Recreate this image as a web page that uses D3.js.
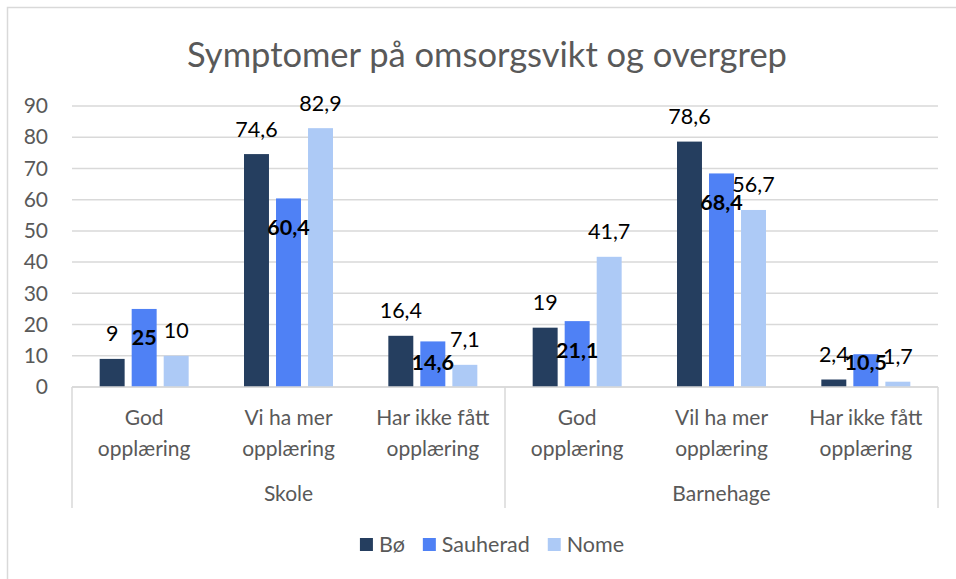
<!DOCTYPE html>
<html>
<head>
<meta charset="utf-8">
<script src="https://cdn.jsdelivr.net/npm/d3@7"></script>
<style>
  body { margin: 0; background: #fff; }
  svg { display: block; font-family: Lato, "Open Sans", sans-serif; }
</style>
</head>
<body>
<svg id="chart"></svg>
<script>
var groups = ["Skole", "Barnehage"];
var categories = [
  ["God", "opplæring"], ["Vi ha mer", "opplæring"], ["Har ikke fått", "opplæring"],
  ["God", "opplæring"], ["Vil ha mer", "opplæring"], ["Har ikke fått", "opplæring"]
];
var seriesNames = ["Bø", "Sauherad", "Nome"];
var boValues = [9, 74.6, 16.4, 19, 78.6, 2.4];
var sauheradValues = [25, 60.4, 14.6, 21.1, 68.4, 10.5];
var nomeValues = [10, 82.9, 7.1, 41.7, 56.7, 1.7];
var yTicks = [0, 10, 20, 30, 40, 50, 60, 70, 80, 90];

var colors = ["#253e5f", "#4f81f5", "#adcaf6"];
var seriesValues = [boValues, sauheradValues, nomeValues];

var width = 956, height = 579;
var plot = { left: 72, right: 938, top: 106, bottom: 387 };

var svg = d3.select("#chart").attr("width", width).attr("height", height);

// chart border
svg.append("rect")
  .attr("x", 7.5).attr("y", 7.5)
  .attr("width", 1000).attr("height", 1000)
  .attr("fill", "none").attr("stroke", "#d9d9d9").attr("stroke-width", 1.5);

svg.append("text")
  .attr("x", 487).attr("y", 67)
  .attr("text-anchor", "middle")
  .attr("fill", "#595959")
  .style("font-size", "34.5px")
  .text("Symptomer på omsorgsvikt og overgrep");

var y = d3.scaleLinear().domain([0, 90]).range([plot.bottom, plot.top]);

var x = d3.scaleBand()
  .domain(d3.range(categories.length))
  .range([plot.left, plot.right])
  .padding(0);

var inner = d3.scaleBand()
  .domain(d3.range(seriesNames.length))
  .range([(x.bandwidth() - 89) / 2, (x.bandwidth() + 89) / 2])
  .paddingInner(0.22)
  .paddingOuter(0);

// gridlines
svg.append("g")
  .selectAll("line")
  .data(yTicks)
  .join("line")
    .attr("x1", plot.left).attr("x2", plot.right)
    .attr("y1", d => y(d)).attr("y2", d => y(d))
    .attr("stroke", "#d9d9d9").attr("stroke-width", 1.5);

// y axis labels
var yAxis = d3.axisLeft(y).tickValues(yTicks).tickSize(0).tickPadding(0);
var yg = svg.append("g").attr("transform", "translate(48,0)").call(yAxis);
yg.select(".domain").remove();
yg.selectAll("text")
  .attr("fill", "#595959")
  .style("font-size", "21px")
  .style("font-family", "Lato, sans-serif");

// bars
seriesValues.forEach((vals, s) => {
  svg.append("g")
    .selectAll("rect")
    .data(vals)
    .join("rect")
      .attr("x", (d, i) => x(i) + inner(s))
      .attr("y", d => y(d))
      .attr("width", inner.bandwidth())
      .attr("height", d => y(0) - y(d))
      .attr("fill", colors[s]);
});

// value labels
var fmt = v => String(v).replace(".", ",");
seriesValues.forEach((vals, s) => {
  var bold = s === 1;
  svg.append("g")
    .selectAll("text")
    .data(vals)
    .join("text")
      .attr("x", (d, i) => x(i) + inner(s) + inner.bandwidth() / 2)
      .attr("y", d => bold ? Math.min(y(d) + 29, y(7.7)) : y(d) - 25)
      .attr("dy", "0.35em")
      .attr("text-anchor", "middle")
      .attr("fill", "#000")
      .style("font-size", "21.5px")
      .style("font-weight", bold ? "bold" : "normal")
      .text(d => fmt(d));
});

// category axis line and separators
svg.append("line")
  .attr("x1", plot.left).attr("x2", plot.right)
  .attr("y1", y(0)).attr("y2", y(0))
  .attr("stroke", "#d9d9d9").attr("stroke-width", 1.5);

var sepX = [0, 3, 6].map(i => i < categories.length ? x(i) : plot.right);
svg.append("g")
  .selectAll("line")
  .data(sepX)
  .join("line")
    .attr("x1", d => d).attr("x2", d => d)
    .attr("y1", y(0)).attr("y2", 508)
    .attr("stroke", "#d9d9d9").attr("stroke-width", 1.5);

var catText = svg.append("g")
  .selectAll("text")
  .data(categories)
  .join("text")
    .attr("x", (d, i) => x(i) + x.bandwidth() / 2)
    .attr("y", 425)
    .attr("text-anchor", "middle")
    .attr("fill", "#595959")
    .style("font-size", "21px");
catText.selectAll("tspan")
  .data(d => d)
  .join("tspan")
    .attr("x", function () { return this.parentNode.getAttribute("x"); })
    .attr("dy", (d, i) => i === 0 ? 0 : 31)
    .text(d => d);

svg.append("g")
  .selectAll("text")
  .data(groups)
  .join("text")
    .attr("x", (d, i) => (x(i * 3) + (i === 0 ? x(3) : plot.right)) / 2)
    .attr("y", 501)
    .attr("text-anchor", "middle")
    .attr("fill", "#595959")
    .style("font-size", "21px")
    .text(d => d);

// legend
var legend = svg.append("g");
var items = legend.selectAll("g")
  .data(seriesNames)
  .join("g");
items.append("rect")
  .attr("width", 13).attr("height", 13)
  .attr("y", 538)
  .attr("fill", (d, i) => colors[i]);
items.append("text")
  .attr("x", 19)
  .attr("y", 552)
  .attr("fill", "#595959")
  .style("font-size", "21.5px")
  .text(d => d);
var offset = 0;
var widths = [];
items.each(function () { widths.push(this.getBBox().width); });
var total = d3.sum(widths) + 18 * (widths.length - 1);
var startX = 492 - total / 2;
items.attr("transform", (d, i) => {
  var tx = startX + offset;
  offset += widths[i] + 18;
  return "translate(" + tx + ",0)";
});
</script>
</body>
</html>
